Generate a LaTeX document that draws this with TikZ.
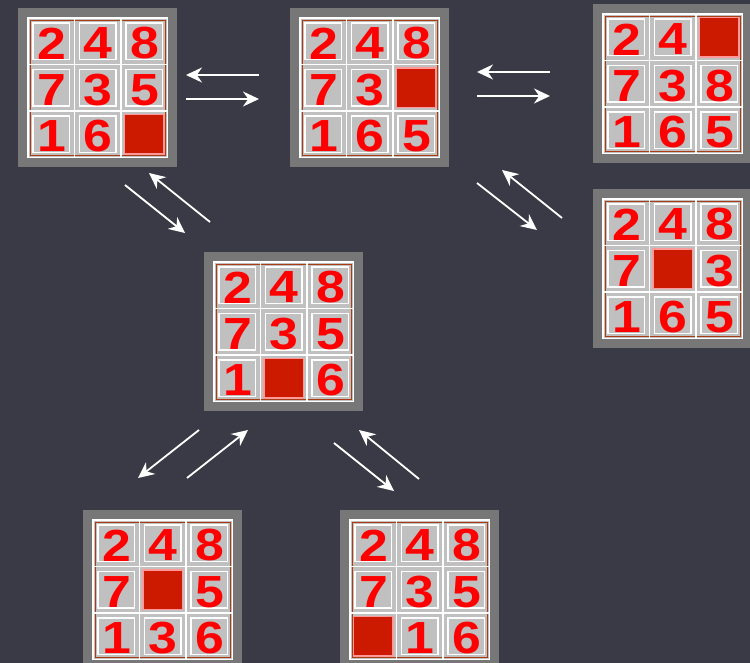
\documentclass[tikz,border=0pt]{standalone}
\usepackage{fontspec}
\usepackage{xcolor}
\usepackage{tikz}
\usetikzlibrary{calc, arrows.meta}

\newfontfamily\tilefont[FakeStretch=1.15]{Liberation Sans}
\definecolor{bgcol}{RGB}{58,58,70}
\definecolor{framegray}{RGB}{119,119,119}
\definecolor{tilegray}{RGB}{192,192,192}
\definecolor{blankred}{RGB}{204,26,0}
\definecolor{digitred}{RGB}{255,0,0}
\definecolor{edgebrown}{RGB}{170,60,20}

\tikzset{
  frame/.style={fill=framegray},
  cell/.style={fill=tilegray},
  rim/.style={draw=edgebrown, line width=0.9pt},
  cellgrid/.style={draw=white, line width=1.8pt},
  tile/.style={draw=white, line width=1.4pt},
  blank/.style={fill=blankred, draw=red!40!white, line width=1.2pt},
  digit/.style={font=\tilefont\bfseries\fontsize{45}{45}\selectfont, text=digitred, inner sep=0pt},
  move/.style={draw=white, line width=1.8pt, -{Stealth[length=16pt,width=15pt]}}
}

% #1 board name, #2 top left corner, #3 tiles row by row (0 = blank)
\newcommand{\puzzle}[3]{%
  \begin{scope}[shift={#2}]
    \fill[frame] (0,0) rectangle (159,159);
    \coordinate (#1) at (79.5,79.5);
    \fill[cell] (10,10) rectangle (149.5,149.5);
    \draw[rim] (12.5,12.5) rectangle (147,147);
    \foreach \t [count=\k from 0] in {#3} {
      \pgfmathtruncatemacro{\col}{mod(\k,3)}
      \pgfmathtruncatemacro{\row}{div(\k,3)}
      \begin{scope}[shift={(10+46.5*\col,10+46.5*\row)}]
        \draw[cellgrid] (0,0) rectangle (46.5,46.5);
        \ifnum\t=0
          \draw[blank] (3.5,3.5) rectangle (43,43);
        \else
          \draw[tile] (5,5) rectangle (41.5,41.5);
          \node[digit] (#1-\k) at (23.5,25.5) {\t};
        \fi
      \end{scope}
    }
  \end{scope}}

\begin{document}
\begin{tikzpicture}[x=1pt, y=-1pt]
  \fill[bgcol] (0,0) rectangle (750,663);
  \useasboundingbox (0,0) rectangle (750,663);

  \puzzle{s1}{(18,8)}{2,4,8,7,3,5,1,6,0}
  \puzzle{s2}{(290,8)}{2,4,8,7,3,0,1,6,5}
  \puzzle{s3}{(593,4)}{2,4,0,7,3,8,1,6,5}
  \puzzle{s4}{(593,189)}{2,4,8,7,0,3,1,6,5}
  \puzzle{s5}{(204,252)}{2,4,8,7,3,5,1,0,6}
  \puzzle{s6}{(83,510)}{2,4,8,7,0,5,1,3,6}
  \puzzle{s7}{(340,510)}{2,4,8,7,3,5,0,1,6}

  % arrow ends
  \coordinate (m12a) at (259,75);  \coordinate (m12b) at (186,75);
  \coordinate (m12c) at (186,99);  \coordinate (m12d) at (259,99);
  \coordinate (m23a) at (550,72);  \coordinate (m23b) at (477,72);
  \coordinate (m23c) at (477,96);  \coordinate (m23d) at (550,96);
  \coordinate (m15a) at (125,185); \coordinate (m15b) at (185,233);
  \coordinate (m15c) at (210,222); \coordinate (m15d) at (149,173);
  \coordinate (m24a) at (477,183); \coordinate (m24b) at (537,230);
  \coordinate (m24c) at (562,218); \coordinate (m24d) at (502,170);
  \coordinate (m56a) at (199,430); \coordinate (m56b) at (138,478);
  \coordinate (m56c) at (187,478); \coordinate (m56d) at (248,430);
  \coordinate (m57a) at (334,443); \coordinate (m57b) at (394,491);
  \coordinate (m57c) at (419,479); \coordinate (m57d) at (359,430);

  \draw[move] (m12a) -- (m12b);
  \draw[move] (m12c) -- (m12d);
  \draw[move] (m23a) -- (m23b);
  \draw[move] (m23c) -- (m23d);
  \draw[move] (m15a) -- (m15b);
  \draw[move] (m15c) -- (m15d);
  \draw[move] (m24a) -- (m24b);
  \draw[move] (m24c) -- (m24d);
  \draw[move] (m56a) -- (m56b);
  \draw[move] (m56c) -- (m56d);
  \draw[move] (m57a) -- (m57b);
  \draw[move] (m57c) -- (m57d);
\end{tikzpicture}
\end{document}
